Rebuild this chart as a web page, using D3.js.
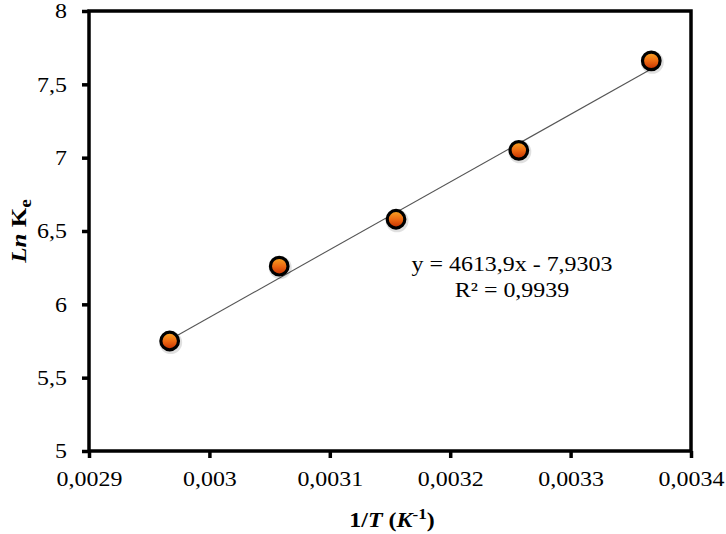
<!DOCTYPE html>
<html><head><meta charset="utf-8">
<script src="https://cdn.jsdelivr.net/npm/d3@7"></script>
<style>body{margin:0;background:#fff}svg{display:block}</style>
</head><body>
<svg id="c" width="726" height="534"></svg>
<script>
// Data
const invT = [0.002967, 0.003058, 0.003155, 0.003257, 0.003367];
const lnKe = [5.75, 6.26, 6.58, 7.05, 7.66];
const xTicks = [0.0029, 0.003, 0.0031, 0.0032, 0.0033, 0.0034];
const xTickLabels = ["0,0029", "0,003", "0,0031", "0,0032", "0,0033", "0,0034"];
const yTicks = [5, 5.5, 6, 6.5, 7, 7.5, 8];
const yTickLabels = ["5", "5,5", "6", "6,5", "7", "7,5", "8"];
const trendSlope = 4613.9;
const trendIntercept = -7.9303;
const equationLines = ["y = 4613,9x - 7,9303", "R² = 0,9939"];

const svg = d3.select("#c");
const L = 89, R = 691, T = 11, B = 451;
const SX = 1.14;
const x = d3.scaleLinear().domain([0.0029, 0.0034]).range([L, R]);
const y = d3.scaleLinear().domain([5, 8]).range([B, T]);
const font = "'Liberation Serif','Times New Roman',serif";

const defs = svg.append("defs");
const g = defs.append("linearGradient").attr("id", "mk").attr("x1", 0).attr("y1", 0).attr("x2", 0).attr("y2", 1);
g.append("stop").attr("offset", "0%").attr("stop-color", "#f9a825");
g.append("stop").attr("offset", "50%").attr("stop-color", "#ee6a12");
g.append("stop").attr("offset", "100%").attr("stop-color", "#c22c00");

// trendline
const xs = d3.extent(invT);
svg.append("line")
  .attr("x1", x(xs[0])).attr("y1", y(trendSlope * xs[0] + trendIntercept))
  .attr("x2", x(xs[1])).attr("y2", y(trendSlope * xs[1] + trendIntercept))
  .attr("stroke", "#555").attr("stroke-width", 1.1);

// axes
const xAxis = svg.append("g").attr("transform", `translate(0,${B})`)
  .call(d3.axisBottom(x).tickValues(xTicks).tickSize(7).tickFormat((d, i) => xTickLabels[i]));
const yAxis = svg.append("g").attr("transform", `translate(${L},0)`)
  .call(d3.axisLeft(y).tickValues(yTicks).tickSize(7).tickFormat((d, i) => yTickLabels[i]));
[xAxis, yAxis].forEach(a => {
  a.select(".domain").remove();
  a.selectAll("line").attr("stroke", "#000").attr("stroke-width", 3.5);
  a.selectAll("text").attr("font-family", font).attr("font-size", 21).attr("fill", "#000");
});
xAxis.selectAll("text").attr("y", 35).attr("dy", 0).attr("transform", `scale(${SX},1)`);
yAxis.selectAll("text").attr("x", -22 / SX).attr("dy", "0.33em").attr("transform", `scale(${SX},1)`);

// frame
svg.append("rect").attr("x", L).attr("y", T).attr("width", R - L).attr("height", B - T)
  .attr("fill", "none").attr("stroke", "#000").attr("stroke-width", 3.5);

// markers
const pts = invT.map((v, i) => [v, lnKe[i]]);
svg.append("g").selectAll("circle.sh").data(pts).join("circle")
  .attr("cx", d => x(d[0]) + 1).attr("cy", d => y(d[1]) + 1.5).attr("r", 11.5)
  .attr("fill", "#000").attr("opacity", 0.12);
svg.append("g").selectAll("circle.m").data(pts).join("circle")
  .attr("cx", d => x(d[0])).attr("cy", d => y(d[1])).attr("r", 8.8)
  .attr("fill", "url(#mk)").attr("stroke", "#000").attr("stroke-width", 3.2);

// equation
const eq = svg.append("g").attr("font-family", font).attr("font-size", 21).attr("fill", "#000");
equationLines.forEach((t, i) => {
  eq.append("text").attr("x", 0).attr("y", 0).attr("text-anchor", "middle")
    .attr("transform", `translate(512,${271 + i * 26}) scale(${SX},1)`).text(t);
});

// x title
const xt = svg.append("text").attr("font-family", font).attr("font-size", 21).attr("font-weight", "bold")
  .attr("text-anchor", "middle").attr("transform", `translate(392,527) scale(${SX},1)`);
xt.append("tspan").text("1/");
xt.append("tspan").attr("font-style", "italic").text("T");
xt.append("tspan").text(" (");
xt.append("tspan").attr("font-style", "italic").text("K");
xt.append("tspan").attr("font-size", 15).attr("dy", -8).text("-1");
xt.append("tspan").attr("dy", 8).text(")");

// y title
const yt = svg.append("text").attr("font-family", font).attr("font-size", 22).attr("font-weight", "bold")
  .attr("text-anchor", "middle").attr("transform", `translate(26,231) rotate(-90) scale(${SX},1)`);
yt.append("tspan").attr("font-style", "italic").text("Ln");
yt.append("tspan").text(" K");
yt.append("tspan").attr("font-size", 17).attr("dy", 5).text("e");
</script>
</body></html>
